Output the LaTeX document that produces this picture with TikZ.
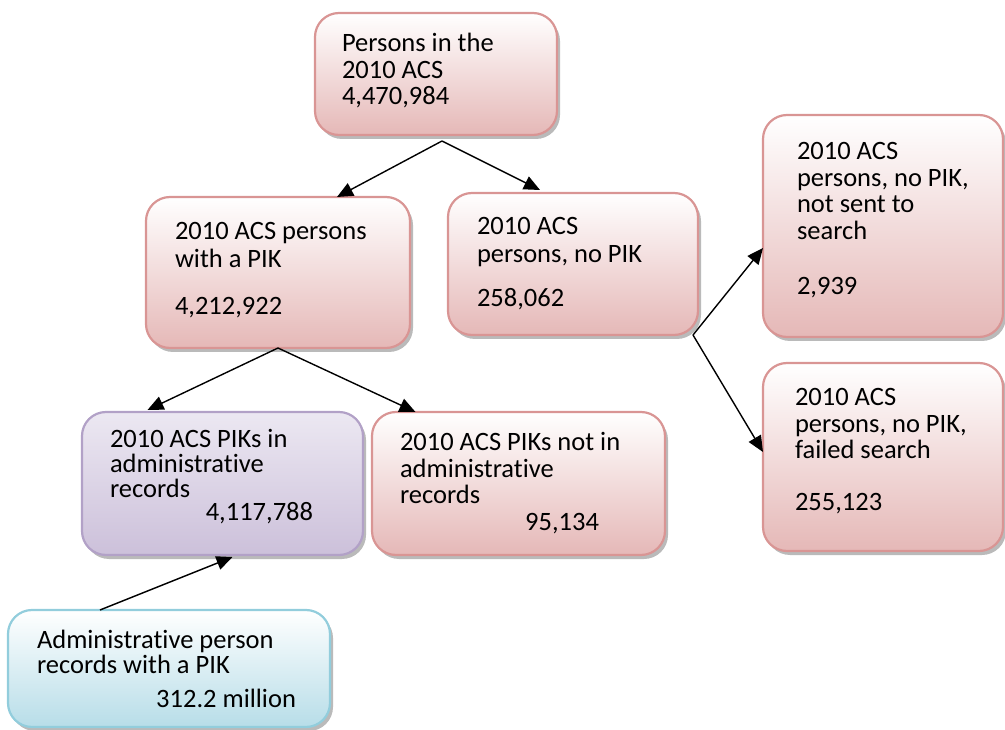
\documentclass[tikz,border=0pt]{standalone}
\usepackage{fontspec}
\setmainfont{Carlito}[RawFeature={-liga;-clig;-calt;-dlig}]
\usetikzlibrary{arrows.meta,shadows}
\definecolor{pinkF}{RGB}{229,184,183}
\definecolor{pinkB}{RGB}{217,149,148}
\definecolor{purF}{RGB}{204,192,218}
\definecolor{purT}{RGB}{236,232,242}
\definecolor{purB}{RGB}{178,161,199}
\definecolor{cyaF}{RGB}{183,221,232}
\definecolor{cyaB}{RGB}{146,205,220}
\begin{document}
\begin{tikzpicture}[x=1pt,y=-1pt,
  boxbase/.style={rectangle, rounded corners=24pt, line width=2.2pt, inner sep=0pt, outer sep=0pt, anchor=north west,
    drop shadow={shadow xshift=3pt, shadow yshift=-4pt, fill=black!45, opacity=0.6}},
  pinkbox/.style={boxbase, draw=pinkB, top color=white, bottom color=pinkF},
  purbox/.style={boxbase, draw=purB, top color=purT, bottom color=purF},
  cyabox/.style={boxbase, draw=cyaB, top color=white, bottom color=cyaF},
  txt/.style={inner sep=0pt, outer sep=0pt, anchor=base west, font=\fontsize{26.5}{27}\selectfont},
  rtxt/.style={txt, anchor=base east},
  conn/.style={line width=1.4pt, -{Triangle[length=16pt,width=14pt]}}
]
\useasboundingbox (0,0) rectangle (1005,730);

% boxes
\node[pinkbox, minimum width=242pt, minimum height=122pt] (top) at (315,13) {};
\node[pinkbox, minimum width=264pt, minimum height=151pt] (A) at (146,197) {};
\node[pinkbox, minimum width=250pt, minimum height=142pt] (B) at (448,193) {};
\node[pinkbox, minimum width=240pt, minimum height=222pt] (C) at (763,115) {};
\node[pinkbox, minimum width=240pt, minimum height=188pt] (D) at (763,363) {};
\node[purbox, minimum width=281pt, minimum height=143pt] (P) at (82,412) {};
\node[pinkbox, minimum width=293pt, minimum height=143pt] (N) at (372,412) {};
\node[cyabox, minimum width=322pt, minimum height=117pt] (Q) at (8,610) {};

% texts
\node[txt] (t1) at (342,52) {Persons in the};
\node[txt] (t2) at (342,79) {2010 ACS};
\node[txt] (t3) at (342,105) {4,470,984};

\node[txt] (a1) at (175,240) {2010 ACS persons};
\node[txt] (a2) at (175,268) {with a PIK};
\node[txt] (a3) at (175,315) {4,212,922};

\node[txt] (b1) at (477,235) {2010 ACS};
\node[txt] (b2) at (477,263) {persons, no PIK};
\node[txt] (b3) at (477,307) {258,062};

\node[txt] (c1) at (797,160) {2010 ACS};
\node[txt] (c2) at (797,187) {persons, no PIK,};
\node[txt] (c3) at (797,213) {not sent to};
\node[txt] (c4) at (797,240) {search};
\node[txt] (c5) at (797,295) {2,939};

\node[txt] (d1) at (795,405) {2010 ACS};
\node[txt] (d2) at (795,432) {persons, no PIK,};
\node[txt] (d3) at (795,458) {failed search};
\node[txt] (d4) at (795,510) {255,123};

\node[txt] (p1) at (110,447) {2010 ACS PIKs in};
\node[txt] (p2) at (110,472) {administrative};
\node[txt] (p3) at (110,497) {records};
\node[rtxt] (p4) at (313,520) {4,117,788};

\node[txt] (n1) at (400,450) {2010 ACS PIKs not in};
\node[txt] (n2) at (400,477) {administrative};
\node[txt] (n3) at (400,503) {records};
\node[rtxt] (n4) at (599,530) {95,134};

\node[txt] (q1) at (37,648) {Administrative person};
\node[txt] (q2) at (37,673) {records with a PIK};
\node[rtxt] (q3) at (296,707) {312.2 million};

% connectors
\draw[conn] ([xshift=6pt,yshift=-6pt]top.south) -- ([xshift=59pt]A.north);
\draw[conn] ([xshift=6pt,yshift=-6pt]top.south) -- ([xshift=-33pt,yshift=3pt]B.north);
\draw[conn] (A.south) -- ([xshift=-75pt,yshift=2pt]P.north);
\draw[conn] (A.south) -- ([xshift=-103pt]N.north);
\draw[conn] ([xshift=-5pt]B.south east) -- ([yshift=-22pt]C.west);
\draw[conn] ([xshift=-5pt]B.south east) -- ([yshift=5pt]D.west);
\draw[conn] ([xshift=-69pt]Q.north) -- ([xshift=10pt,yshift=-2pt]P.south);
\end{tikzpicture}
\end{document}
